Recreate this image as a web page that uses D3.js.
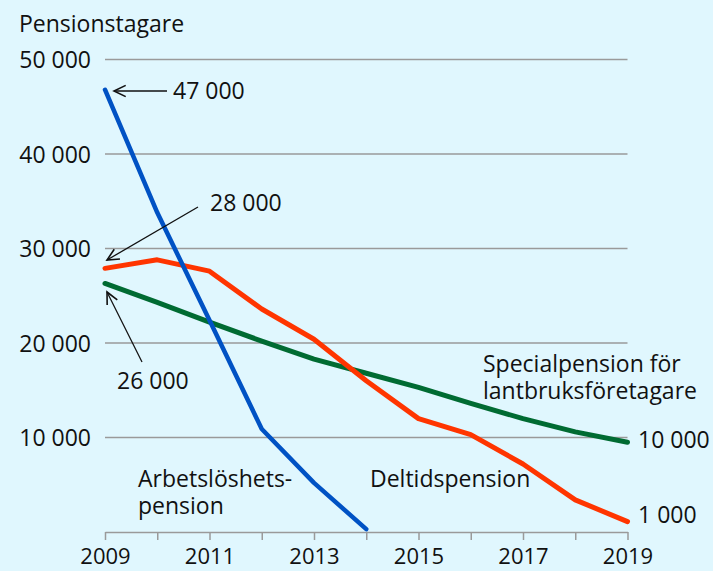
<!DOCTYPE html>
<html>
<head>
<meta charset="utf-8">
<script src="https://cdn.jsdelivr.net/npm/d3@7"></script>
<style>
  body { margin: 0; background: #e0f7fe; }
  svg { display: block; font-family: "Open Sans", sans-serif; }
</style>
</head>
<body>
<svg width="713" height="571"></svg>
<script>
// data (persons receiving pension)
let years       = [2009, 2010, 2011, 2012, 2013, 2014, 2015, 2016, 2017, 2018, 2019];
let arbetsl     = [46800, 33800, 22400, 10900, 5200, 300];
let deltid      = [27900, 28800, 27600, 23600, 20400, 16000, 12000, 10300, 7200, 3400, 1100];
let special     = [26300, 24300, 22200, 20200, 18300, 16800, 15300, 13600, 12000, 10600, 9500];
let yTicks      = [10000, 20000, 30000, 40000, 50000];
let xTickLabels = [2009, 2011, 2013, 2015, 2017, 2019];

let colourBlue  = "#0052c4";
let colourRed   = "#ff3500";
let colourGreen = "#006b32";
let colourGrid  = "#9a9a9a";
let fontSize    = 23;

let svg = d3.select("svg");

let x = d3.scaleLinear().domain([2009, 2019]).range([105, 627.5]);
let y = d3.scaleLinear().domain([0, 50000]).range([532, 59.5]);

let fmt = d => d3.format(",")(d).replace(/,/g, " ");

// gridlines
svg.append("g")
  .selectAll("line")
  .data(yTicks)
  .enter().append("line")
    .attr("x1", x(2009))
    .attr("x2", x(2019))
    .attr("y1", d => y(d))
    .attr("y2", d => y(d))
    .style("stroke", colourGrid)
    .style("stroke-width", 1.5);

// y axis labels
let yAxis = svg.append("g")
  .attr("transform", "translate(98,0)")
  .call(d3.axisLeft(y).tickValues(yTicks).tickSize(0).tickFormat(fmt));
yAxis.select(".domain").remove();
yAxis.selectAll("text")
  .attr("x", -7)
  .attr("dy", "0.36em")
  .style("font-size", fontSize + "px")
  .style("font-family", "Open Sans")
  .style("fill", "#111");

// x axis
let xAxis = svg.append("g")
  .attr("transform", "translate(0," + y(0) + ")")
  .call(d3.axisBottom(x)
    .tickValues(years)
    .tickSize(8)
    .tickSizeOuter(0)
    .tickFormat(d => xTickLabels.includes(d) ? d : ""));
xAxis.select(".domain").style("stroke", colourGrid).style("stroke-width", 1.5);
xAxis.selectAll(".tick line").style("stroke", colourGrid).style("stroke-width", 1.5);
xAxis.selectAll("text")
  .attr("y", 0)
  .attr("dy", "1.45em")
  .style("font-size", "22px")
  .style("font-family", "Open Sans")
  .style("fill", "#111");

// lines
let line = d3.line()
  .x((d, i) => x(years[i]))
  .y(d => y(d));

let series = [
  { values: special, colour: colourGreen, width: 5 },
  { values: deltid,  colour: colourRed,   width: 5 },
  { values: arbetsl, colour: colourBlue,  width: 4.5 }
];

svg.selectAll("path.lines")
  .data(series)
  .enter().append("path")
    .attr("class", "lines")
    .attr("d", d => line(d.values))
    .style("fill", "none")
    .style("stroke", d => d.colour)
    .style("stroke-width", d => d.width)
    .style("stroke-linecap", "round")
    .style("stroke-linejoin", "round");

// text labels (multi-line ones as tspans)
function label(lines, tx, ty) {
  if (!Array.isArray(lines)) lines = [lines];
  let t = svg.append("text")
    .attr("x", tx)
    .attr("y", ty)
    .style("font-size", fontSize + "px")
    .style("fill", "#111");
  lines.forEach((l, i) => {
    t.append("tspan")
      .attr("x", tx)
      .attr("dy", i ? 27 : 0)
      .text(l);
  });
}

label("Pensionstagare", 19, 32);
label(["Arbetslöshets-", "pension"], 138, 487);
label("Deltidspension", 370, 487);
label(["Specialpension för", "lantbruksföretagare"], 483, 372);
label(fmt(special[special.length - 1] + 500), 638, 448);
label(fmt(deltid[deltid.length - 1] - 100), 638, 523);
label(fmt(47000), 173, 99);
label(fmt(28000), 210, 211);
label(fmt(26000), 117, 389);

// arrows
function arrow(x1, y1, x2, y2) {
  let a = Math.atan2(y2 - y1, x2 - x1);
  let h = 13, s = 0.45;
  svg.append("line")
    .attr("x1", x1).attr("y1", y1).attr("x2", x2).attr("y2", y2)
    .style("stroke", "#111").style("stroke-width", 1.3);
  let p1 = [x2 - h * Math.cos(a - s), y2 - h * Math.sin(a - s)];
  let p2 = [x2 - h * Math.cos(a + s), y2 - h * Math.sin(a + s)];
  svg.append("path")
    .attr("d", "M" + p1 + "L" + [x2, y2] + "L" + p2)
    .style("fill", "none").style("stroke", "#111").style("stroke-width", 1.6);
}

arrow(167, 91, 114, 91);
arrow(198, 207, 107, 260);
arrow(142, 362, 107, 292);
</script>
</body>
</html>
